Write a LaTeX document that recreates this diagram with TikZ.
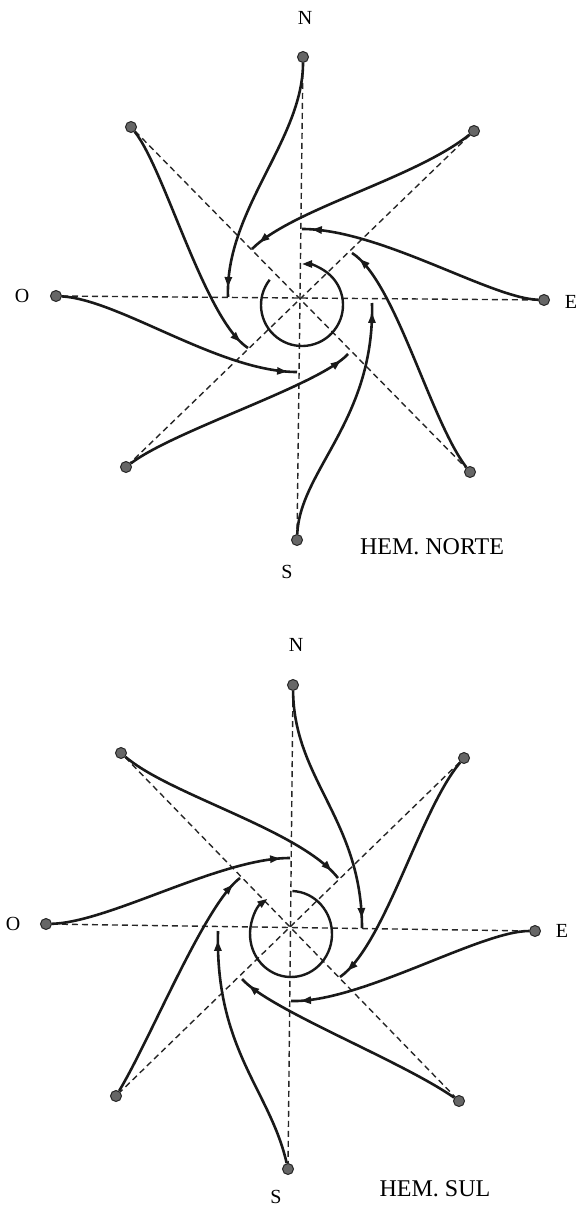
\documentclass[tikz,border=0pt]{standalone}
\usepackage{fontspec}
\setmainfont{Liberation Serif}
\usepackage{tikz}
\usetikzlibrary{arrows.meta, positioning, decorations.markings}

\begin{document}
\begin{tikzpicture}[
    x=1pt, y=1pt,
    dot/.style={circle, draw=black!85, fill=black!60, line width=1pt, inner sep=0pt, minimum size=11pt},
    lbl/.style={inner sep=0pt, font=\fontsize{20}{24}\selectfont},
    hem/.style={inner sep=0pt, font=\fontsize{24}{28}\selectfont},
    axis/.style={dash pattern=on 6pt off 4pt, line width=1.4pt, black!85},
    wind/.style={line width=2.6pt, black!90, postaction={decorate},
        decoration={markings, mark=at position 0.96 with {\arrow{Triangle[length=10pt, width=7pt]}}}},
    eddy/.style={-{Triangle[length=10pt, width=7pt]}, line width=2.4pt, black!90}
]
\useasboundingbox (0,0) rectangle (576,-1209);

% Northern hemisphere
\coordinate (hnC) at (302,-305);
\node[dot] (hnN) at (303,-57) {};
\node[dot] (hnNE) at (474,-131) {};
\node[dot] (hnE) at (544,-300) {};
\node[dot] (hnSE) at (470,-472) {};
\node[dot] (hnS) at (297,-540) {};
\node[dot] (hnSW) at (126,-467) {};
\node[dot] (hnO) at (56,-296) {};
\node[dot] (hnNW) at (131,-127) {};
\node[lbl] (hnlN) at (305,-18) {N};
\node[lbl] (hnlO) at (22,-296) {O};
\node[lbl] (hnlE) at (571,-302) {E};
\node[lbl] (hnlS) at (287,-572) {S};
\node[hem] (hnname) at (432,-547) {HEM. NORTE};

\draw[axis] (hnN) -- (hnS);
\draw[axis] (hnO) -- (hnE);
\draw[axis] (hnNW) -- (hnSE);
\draw[axis] (hnNE) -- (hnSW);

\coordinate (hnNx) at (228,-297);
\coordinate (hnNEx) at (252,-249);
\coordinate (hnEx) at (302,-229);
\coordinate (hnSEx) at (352,-253);
\coordinate (hnSx) at (372,-303);
\coordinate (hnSWx) at (348,-354);
\coordinate (hnOx) at (297,-372);
\coordinate (hnNWx) at (248,-348);

\draw[wind] (hnN) .. controls (303,-140) and (225,-210) .. (hnNx);
\draw[wind] (hnNE) .. controls (414,-179) and (292,-209) .. (hnNEx);
\draw[wind] (hnE) .. controls (490,-298) and (380,-229) .. (hnEx);
\draw[wind] (hnSE) .. controls (430,-420) and (395,-280) .. (hnSEx);
\draw[wind] (hnS) .. controls (300,-470) and (375,-420) .. (hnSx);
\draw[wind] (hnSW) .. controls (175,-430) and (320,-385) .. (hnSWx);
\draw[wind] (hnO) .. controls (120,-300) and (220,-372) .. (hnOx);
\draw[wind] (hnNW) .. controls (165,-170) and (205,-320) .. (hnNWx);

\draw[eddy] (hnC) ++(142:41) arc[start angle=142, end angle=450, radius=41];

% Southern hemisphere
\coordinate (hsC) at (291,-932);
\node[dot] (hsN) at (293,-685) {};
\node[dot] (hsNE) at (464,-758) {};
\node[dot] (hsE) at (535,-931) {};
\node[dot] (hsSE) at (459,-1101) {};
\node[dot] (hsS) at (288,-1169) {};
\node[dot] (hsSW) at (116,-1096) {};
\node[dot] (hsO) at (46,-924) {};
\node[dot] (hsNW) at (121,-753) {};
\node[lbl] (hslN) at (296,-645) {N};
\node[lbl] (hslO) at (13,-924) {O};
\node[lbl] (hslE) at (562,-931) {E};
\node[lbl] (hslS) at (276,-1197) {S};
\node[hem] (hsname) at (435,-1189) {HEM. SUL};

\draw[axis] (hsN) -- (hsS);
\draw[axis] (hsO) -- (hsE);
\draw[axis] (hsNW) -- (hsSE);
\draw[axis] (hsNE) -- (hsSW);

\coordinate (hsNx) at (362,-928);
\coordinate (hsNEx) at (340,-977);
\coordinate (hsEx) at (291,-1001);
\coordinate (hsSEx) at (242,-979);
\coordinate (hsSx) at (218,-931);
\coordinate (hsSWx) at (240,-878);
\coordinate (hsOx) at (290,-858);
\coordinate (hsNWx) at (338,-878);

\draw[wind] (hsNW) .. controls (170,-795) and (300,-830) .. (hsNWx);
\draw[wind] (hsN) .. controls (294,-780) and (362,-820) .. (hsNx);
\draw[wind] (hsNE) .. controls (420,-810) and (385,-945) .. (hsNEx);
\draw[wind] (hsE) .. controls (480,-931) and (360,-1003) .. (hsEx);
\draw[wind] (hsSE) .. controls (400,-1060) and (270,-1010) .. (hsSEx);
\draw[wind] (hsS) .. controls (270,-1090) and (215,-1050) .. (hsSx);
\draw[wind] (hsSW) .. controls (150,-1040) and (205,-904) .. (hsSWx);
\draw[wind] (hsO) .. controls (110,-922) and (220,-858) .. (hsOx);

\draw[eddy] (hsC) ++(88:41) arc[start angle=88, end angle=-235, x radius=41, y radius=43];

\end{tikzpicture}
\end{document}
